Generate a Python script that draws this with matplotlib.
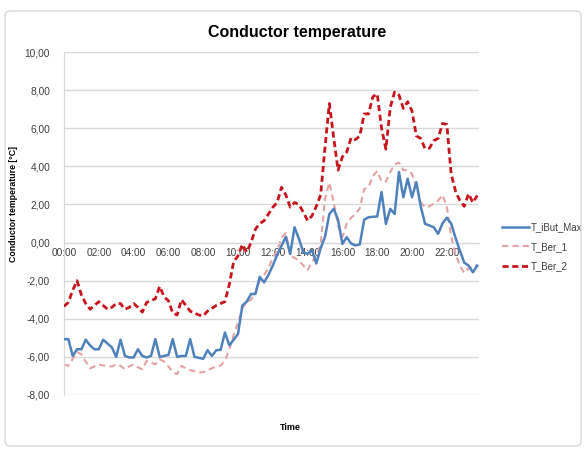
import matplotlib
matplotlib.use("Agg")
import matplotlib.pyplot as plt
from matplotlib.patches import FancyBboxPatch

# 15-minute readings over one day (00:00 .. 23:45)
t_ibut_max = [
    -5.07, -5.07, -5.95, -5.6, -5.6, -5.1, -5.4, -5.6, -5.6, -5.1,
    -5.3, -5.5, -6.0, -5.1, -5.95, -6.03, -6.03, -5.6, -5.95, -6.03,
    -5.95, -5.07, -6.0, -5.95, -5.9, -5.07, -6.0, -5.95, -5.95, -5.07,
    -6.0, -6.05, -6.1, -5.65, -5.95, -5.65, -5.63, -4.72, -5.39, -5.1,
    -4.8, -3.3, -3.1, -2.7, -2.7, -1.8, -2.09, -1.7, -1.2, -0.65,
    -0.16, 0.3, -0.6, 0.8, 0.2, -0.5, -0.6, -0.4, -1.1, -0.3,
    0.3, 1.5, 1.77, 1.2, -0.07, 0.28, -0.05, -0.15, -0.1, 1.2,
    1.33, 1.35, 1.37, 2.65, 0.98, 1.77, 1.5, 3.7, 2.38, 3.35,
    2.38, 3.17, 1.9, 0.98, 0.9, 0.8, 0.46, 1.0, 1.3, 1.0,
    0.25, -0.42, -1.05, -1.21, -1.56, -1.21,
]
t_ber_1 = [
    -6.39, -6.47, -6.1, -5.75, -5.86, -6.25, -6.6, -6.5, -6.4, -6.45,
    -6.5, -6.5, -6.4, -6.47, -6.65, -6.5, -6.4, -6.55, -6.65, -6.21,
    -6.3, -6.39, -6.12, -6.25, -6.5, -6.8, -6.9, -6.47, -6.6, -6.7,
    -6.75, -6.82, -6.8, -6.7, -6.6, -6.5, -6.45, -6.2, -5.6, -4.85,
    -4.2, -3.45, -3.14, -3.0, -2.65, -2.0, -1.7, -1.35, -0.8, -0.4,
    0.25, 0.5, -0.7, -0.8, -0.95, -1.2, -1.45, -1.0, -0.7, -0.1,
    2.3, 3.15, 2.1, 0.9, 0.3, 1.0, 1.3, 1.5, 1.8, 2.8,
    2.9, 3.5, 3.75, 3.2, 3.2, 3.7, 4.1, 4.2, 3.8, 3.8,
    3.6, 2.9, 2.1, 1.86, 1.9, 2.05, 2.2, 2.5, 1.9, 0.3,
    -0.6, -1.2, -1.6, -1.35, -1.21, -1.21,
]
t_ber_2 = [
    -3.35, -3.14, -2.5, -2.0, -2.75, -3.2, -3.5, -3.3, -3.1, -3.3,
    -3.5, -3.4, -3.2, -3.2, -3.5, -3.4, -3.2, -3.4, -3.65, -3.14,
    -3.05, -2.95, -2.3, -2.85, -3.05, -3.7, -3.8, -3.0, -3.3, -3.6,
    -3.7, -3.8, -3.85, -3.6, -3.45, -3.3, -3.2, -3.1, -2.2, -1.0,
    -0.7, -0.1, -0.5, 0.0, 0.7, 1.0, 1.15, 1.5, 1.85, 2.1,
    2.9, 2.5, 1.86, 2.1, 2.0, 1.6, 1.15, 1.4, 1.9, 2.5,
    5.0, 7.3, 5.5, 3.8, 4.5, 4.75, 5.5, 5.4, 5.6, 6.75,
    6.75, 7.65, 7.8, 6.0, 4.9, 7.1, 7.9, 7.74, 7.04, 7.39,
    6.9, 5.6, 5.46, 4.93, 4.95, 5.35, 5.46, 6.25, 6.2, 3.6,
    2.7, 2.2, 1.9, 2.56, 2.1, 2.47,
]
time_labels = ["00:00", "02:00", "04:00", "06:00", "08:00", "10:00",
               "12:00", "14:00", "16:00", "18:00", "20:00", "22:00"]
y_ticks = [-8, -6, -4, -2, 0, 2, 4, 6, 8, 10]

plt.rcParams['font.family'] = ['Liberation Sans', 'DejaVu Sans']

fig = plt.figure(figsize=(5.87, 4.5), dpi=100)
ax = fig.add_axes([64 / 587, 1 - 395 / 450, (479 - 64) / 587, (395 - 52) / 450])

x = list(range(len(t_ibut_max)))
ax.plot(x, t_ibut_max, color="#4f81bd", lw=1.8, label="T_iBut_Max", zorder=3)
ax.plot(x, t_ber_1, color="#e6a3a3", lw=1.5, ls=(0, (3, 2)), label="T_Ber_1", zorder=2)
ax.plot(x, t_ber_2, color="#c8141c", lw=2.0, ls=(0, (2.2, 1.3)), label="T_Ber_2", zorder=4)

ax.set_xlim(0, 95.4)
ax.set_ylim(-8, 10)
ax.set_yticks(y_ticks)
ax.set_yticklabels([("%.2f" % v).replace(".", ",") for v in y_ticks])
ax.set_xticks(range(0, 96, 8))
ax.set_xticklabels(time_labels)

grid_c = "#d9d9d9"
ax.grid(axis="y", color=grid_c, lw=1.0, zorder=0)
ax.set_axisbelow(True)
for s in ["top", "right"]:
    ax.spines[s].set_visible(False)
ax.spines["left"].set_color(grid_c)
ax.spines["bottom"].set_position(("data", 0))
ax.spines["bottom"].set_color(grid_c)
ax.tick_params(length=0, labelsize=7.3, colors="#404040")
ax.tick_params(axis="x", pad=4)
ax.tick_params(axis="y", pad=10)

fig.text(297 / 587, 1 - 33 / 450, "Conductor temperature", ha="center", va="center",
         fontsize=11.5, fontweight="bold")
fig.text(14 / 587, 1 - 204 / 450, "Conductor temperature [°C]", ha="center", va="center",
         rotation=90, fontsize=6.3, fontweight="bold")
fig.text(290 / 587, 1 - 428 / 450, "Time", ha="center", va="center",
         fontsize=6.5, fontweight="bold")

ax.legend(loc="upper left", bbox_to_anchor=(502 / 587, 1 - 222 / 450),
          bbox_transform=fig.transFigure, frameon=False, fontsize=7,
          borderpad=0, borderaxespad=0, handlelength=2.8, handletextpad=0.15,
          labelspacing=1.0, labelcolor="#404040")

fig.patches.append(FancyBboxPatch((5 / 587, 4 / 450), 576 / 587, 435 / 450,
                                  boxstyle="round,pad=0,rounding_size=0.01",
                                  transform=fig.transFigure, fill=False,
                                  ec="#d9d9d9", lw=1.0))

fig.savefig("out.png", dpi=100)
